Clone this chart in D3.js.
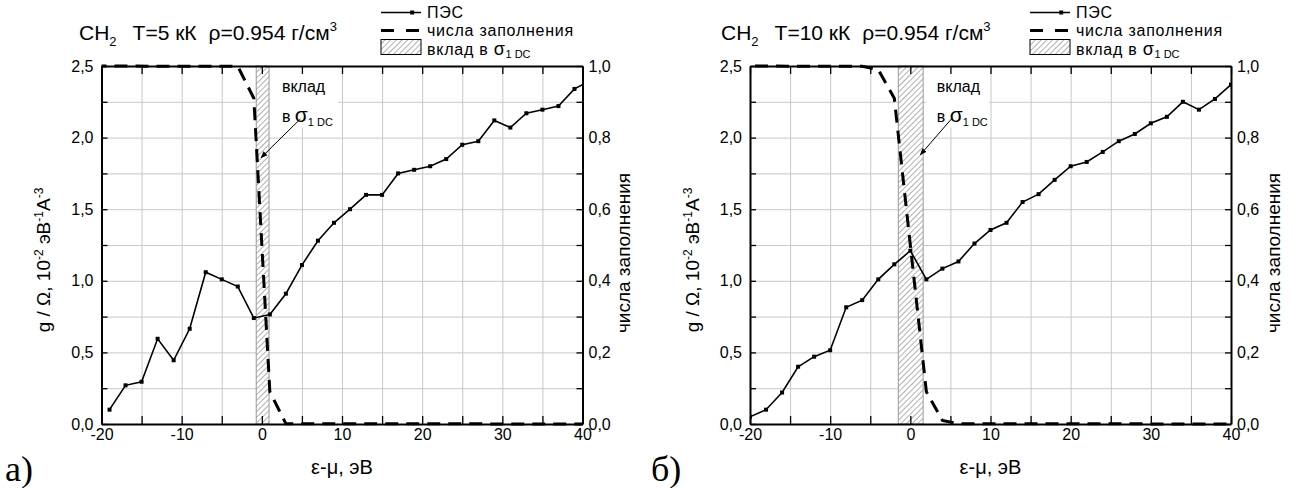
<!DOCTYPE html>
<html>
<head>
<meta charset="utf-8">
<script src="https://cdn.jsdelivr.net/npm/d3@7"></script>
<style>
  body { margin: 0; background: #fff; }
  text { font-family: "Liberation Sans", Arial, sans-serif; fill: #000; }
  .grid line { stroke: #c8c8c8; stroke-width: 1; }
  .grid path { display: none; }
  .ax path { stroke: #000; stroke-width: 2; }
  .ax line { stroke: #000; stroke-width: 1.3; }
  .ax text { font-size: 16px; }
</style>
</head>
<body>
<div id="chart"></div>
<script>
// ---- data ----
// energy grid (eV) and DOS g/Omega (1e-2 eV^-1 A^-3), T = 5 kK
var energy5 = [-19, -17, -15, -13, -11, -9, -7, -5, -3, -1, 1, 3, 5, 7, 9, 11, 13, 15, 17, 19,
               21, 23, 25, 27, 29, 31, 33, 35, 37, 39, 41];
var dos5 = [0.10, 0.27, 0.295, 0.595, 0.445, 0.665, 1.06, 1.01, 0.96, 0.74, 0.765, 0.91, 1.11, 1.28, 1.405, 1.50,
            1.60, 1.60, 1.75, 1.775, 1.80, 1.85, 1.95, 1.975, 2.12, 2.07, 2.17, 2.195, 2.22, 2.34, 2.40];
// occupation numbers, T = 5 kK
var occEnergy5 = [-21, -3, -1, 1, 3, 41];
var occ5 = [1.0, 0.999, 0.91, 0.09, 0.001, 0.0];

// T = 10 kK
var energy10 = [-20, -18, -16, -14, -12, -10, -8, -6, -4, -2, 0, 2, 4, 6, 8, 10, 12, 14, 16, 18,
                20, 22, 24, 26, 28, 30, 32, 34, 36, 38, 40];
var dos10 = [0.05, 0.10, 0.22, 0.40, 0.47, 0.515, 0.815, 0.865, 1.01, 1.115, 1.21, 1.01, 1.085, 1.135, 1.26, 1.355,
             1.405, 1.55, 1.605, 1.705, 1.80, 1.83, 1.90, 1.975, 2.025, 2.10, 2.145, 2.25, 2.195, 2.27, 2.37];
var occEnergy10 = [-22, -6, -4, -2, 0, 2, 4, 6, 42];
var occ10 = [1.0, 0.999, 0.99, 0.91, 0.5, 0.09, 0.01, 0.001, 0.0];

// energy window contributing to sigma_1 DC
var band5 = [-0.7, 0.9];
var band10 = [-1.5, 1.6];

var xTicks = d3.range(-20, 41, 5);
var yTicks = d3.range(0, 2.51, 0.25);
var yRTicks = d3.range(0, 1.001, 0.1);

// ---- layout ----
var width = 1294, height = 488;
var yTop = 66, yBot = 424;

var loc = d3.formatLocale({decimal: ",", thousands: " ", grouping: [3], currency: ["", ""], minus: "-"});
var f1 = loc.format(".1f"), fd = loc.format("d");

var svg = d3.select("#chart").append("svg")
  .attr("width", width)
  .attr("height", height);

var defs = svg.append("defs");
var pat = defs.append("pattern")
  .attr("id", "hatch")
  .attr("patternUnits", "userSpaceOnUse")
  .attr("width", 4).attr("height", 4)
  .attr("patternTransform", "rotate(45)");
pat.append("rect").attr("width", 4).attr("height", 4).attr("fill", "#fff");
pat.append("line").attr("x1", 0).attr("y1", 0).attr("x2", 0).attr("y2", 4)
  .attr("stroke", "#6f6f6f").attr("stroke-width", 1.1);

defs.append("marker")
  .attr("id", "arrow")
  .attr("viewBox", "0 0 10 10")
  .attr("refX", 9).attr("refY", 5)
  .attr("markerWidth", 7).attr("markerHeight", 7)
  .attr("orient", "auto")
  .append("path").attr("d", "M0,1 L10,5 L0,9 Z").attr("fill", "#000");

var panels = [
  {id: "a", x0: 101.5, x1: 582.5, energy: energy5, dos: dos5, occE: occEnergy5, occ: occ5, band: band5,
   temp: "T=5 кК", titleX: 79, legX: 381, yLabX: 50, yRLabX: 630, letter: "а)", letterX: 5,
   note: {x: 2.5, box: [1.0, 9.5], from: [4.8, 2.13], to: [-0.1, 1.86]}},
  {id: "b", x0: 750, x1: 1231, energy: energy10, dos: dos10, occE: occEnergy10, occ: occ10, band: band10,
   temp: "T=10 кК", titleX: 721, legX: 1030, yLabX: 699, yRLabX: 1280, letter: "б)", letterX: 651,
   note: {x: 3.3, box: [2.0, 9.8], from: [5.2, 2.135], to: [1.25, 1.88]}}
];

panels.forEach(function(p) {
  var x = d3.scaleLinear().domain([-20, 40]).range([p.x0, p.x1]);
  var y = d3.scaleLinear().domain([0, 2.5]).range([yBot, yTop]);
  var yR = d3.scaleLinear().domain([0, 1]).range([yBot, yTop]);
  var g = svg.append("g");

  defs.append("clipPath").attr("id", "clip-" + p.id)
    .append("rect").attr("x", p.x0).attr("y", yTop - 2).attr("width", p.x1 - p.x0).attr("height", yBot - yTop + 4);

  // grid
  g.append("g").attr("class", "grid")
    .attr("transform", "translate(0," + yBot + ")")
    .call(d3.axisBottom(x).tickValues(xTicks).tickSize(-(yBot - yTop)).tickFormat(""));
  g.append("g").attr("class", "grid")
    .attr("transform", "translate(" + p.x0 + ",0)")
    .call(d3.axisLeft(y).tickValues(yTicks).tickSize(-(p.x1 - p.x0)).tickFormat(""));

  // white box behind the note
  g.append("rect")
    .attr("x", x(p.note.box[0])).attr("y", yTop + 1)
    .attr("width", x(p.note.box[1]) - x(p.note.box[0]))
    .attr("height", y(2.07) - yTop - 1)
    .attr("fill", "#fff");

  var plot = g.append("g").attr("clip-path", "url(#clip-" + p.id + ")");

  // hatched band
  plot.append("rect")
    .attr("x", x(p.band[0])).attr("y", yTop)
    .attr("width", x(p.band[1]) - x(p.band[0]))
    .attr("height", yBot - yTop)
    .attr("fill", "url(#hatch)")
    .attr("stroke", "#999").attr("stroke-width", 1);

  // occupation numbers
  var occLine = d3.line().x(function(d, i) { return x(p.occE[i]); }).y(function(d) { return yR(d); });
  plot.append("path")
    .attr("d", occLine(p.occ))
    .attr("fill", "none").attr("stroke", "#000")
    .attr("stroke-width", 3).attr("stroke-dasharray", "13,8");

  // DOS
  var dosLine = d3.line().x(function(d, i) { return x(p.energy[i]); }).y(function(d) { return y(d); });
  plot.append("path")
    .attr("d", dosLine(p.dos))
    .attr("fill", "none").attr("stroke", "#000").attr("stroke-width", 1.6);
  plot.selectAll(".pt").data(p.dos).enter().append("rect")
    .attr("x", function(d, i) { return x(p.energy[i]) - 2; })
    .attr("y", function(d) { return y(d) - 2; })
    .attr("width", 4).attr("height", 4)
    .attr("fill", "#000");

  // axes
  g.append("g").attr("class", "ax")
    .attr("transform", "translate(0," + yBot + ")")
    .call(d3.axisBottom(x).tickValues(xTicks).tickSizeInner(-8).tickSizeOuter(0).tickPadding(5)
      .tickFormat(function(d) { return d % 10 === 0 ? fd(d) : ""; }));
  g.append("g").attr("class", "ax")
    .attr("transform", "translate(0," + yTop + ")")
    .call(d3.axisTop(x).tickValues(xTicks).tickSizeInner(-8).tickSizeOuter(0).tickFormat(""));
  g.append("g").attr("class", "ax")
    .attr("transform", "translate(" + p.x0 + ",0)")
    .call(d3.axisLeft(y).tickValues(yTicks).tickSizeInner(-6).tickSizeOuter(0).tickPadding(8)
      .tickFormat(function(d) { return Math.round(d * 4) % 2 === 0 ? f1(d) : ""; }));
  g.append("g").attr("class", "ax")
    .attr("transform", "translate(" + p.x1 + ",0)")
    .call(d3.axisRight(yR).tickValues(yRTicks).tickSizeInner(-6).tickSizeOuter(0).tickPadding(6)
      .tickFormat(function(d) { return Math.round(d * 10) % 2 === 0 ? f1(d) : ""; }));

  // note with arrow
  g.append("text").attr("x", x(p.note.x)).attr("y", 92).style("font-size", "16px").text("вклад");
  var nt = g.append("text").attr("x", x(p.note.x)).attr("y", 122).style("font-size", "16px");
  nt.append("tspan").text("в ");
  nt.append("tspan").style("font-size", "21px").text("σ");
  nt.append("tspan").attr("dy", 4).style("font-size", "11px").text("1 DC");
  g.append("line")
    .attr("x1", x(p.note.from[0])).attr("y1", y(p.note.from[1]))
    .attr("x2", x(p.note.to[0])).attr("y2", y(p.note.to[1]))
    .attr("stroke", "#000").attr("stroke-width", 1)
    .attr("marker-end", "url(#arrow)");

  // title
  var t = g.append("text").attr("x", p.titleX).attr("y", 40).style("font-size", "21px");
  t.append("tspan").text("CH");
  t.append("tspan").attr("dy", 6).style("font-size", "13px").text("2");
  t.append("tspan").attr("dy", -6).attr("dx", 16).text(p.temp);
  t.append("tspan").attr("dx", 12).text("ρ=0.954 г/см");
  t.append("tspan").attr("dy", -9).style("font-size", "13px").text("3");

  // legend
  var lx = p.legX, lw = 40, lfs = "16px", ls = "0.75px";
  g.append("line").attr("x1", lx).attr("x2", lx + lw).attr("y1", 12.5).attr("y2", 12.5)
    .attr("stroke", "#000").attr("stroke-width", 1.6);
  g.append("rect").attr("x", lx + lw * 0.78 - 2).attr("y", 10.5).attr("width", 4).attr("height", 4).attr("fill", "#000");
  g.append("text").attr("x", lx + lw + 6).attr("y", 18).style("font-size", lfs).style("letter-spacing", ls).text("ПЭС");
  g.append("line").attr("x1", lx).attr("x2", lx + lw).attr("y1", 30.5).attr("y2", 30.5)
    .attr("stroke", "#000").attr("stroke-width", 3).attr("stroke-dasharray", "13,12");
  g.append("text").attr("x", lx + lw + 6).attr("y", 36).style("font-size", lfs).style("letter-spacing", ls).text("числа заполнения");
  g.append("rect").attr("x", lx).attr("y", 39.5).attr("width", lw).attr("height", 15)
    .attr("fill", "url(#hatch)").attr("stroke", "#000").attr("stroke-width", 1);
  var lt = g.append("text").attr("x", lx + lw + 6).attr("y", 54.5).style("font-size", lfs).style("letter-spacing", ls);
  lt.append("tspan").text("вклад в ");
  lt.append("tspan").style("font-size", "18px").text("σ");
  lt.append("tspan").attr("dy", 3).style("font-size", "11px").style("letter-spacing", "0px").text("1 DC");

  // axis titles
  g.append("text").attr("x", (p.x0 + p.x1) / 2).attr("y", 474)
    .attr("text-anchor", "middle").style("font-size", "20px").text("ε-μ, эВ");
  var yl = g.append("text")
    .attr("transform", "translate(" + p.yLabX + ",260) rotate(-90)")
    .attr("text-anchor", "middle").style("font-size", "19px");
  yl.append("tspan").text("g / Ω, 10");
  yl.append("tspan").attr("dy", -7).style("font-size", "12px").text("-2");
  yl.append("tspan").attr("dy", 7).text(" эВ");
  yl.append("tspan").attr("dy", -7).style("font-size", "12px").text("-1");
  yl.append("tspan").attr("dy", 7).text("А");
  yl.append("tspan").attr("dy", -7).style("font-size", "12px").text("-3");
  g.append("text")
    .attr("transform", "translate(" + p.yRLabX + ",253) rotate(-90)")
    .attr("text-anchor", "middle").style("font-size", "19px").text("числа заполнения");

  g.append("text").attr("x", p.letterX).attr("y", 481)
    .style("font-family", "'Liberation Serif', 'Times New Roman', serif").style("font-size", "36px")
    .text(p.letter);
});
</script>
</body>
</html>
